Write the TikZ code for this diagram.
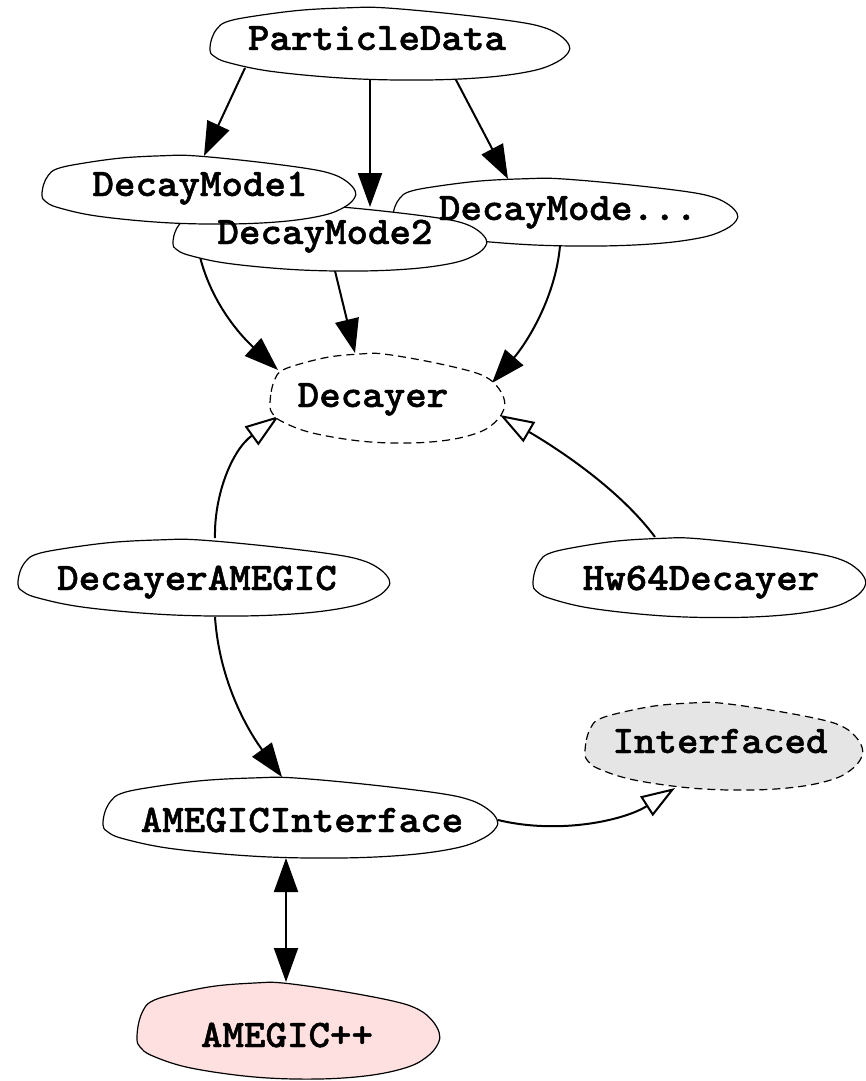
\documentclass[tikz,border=0pt]{standalone}
\usepackage{fontspec}
\newfontfamily\labelfont{Latin Modern Mono Light}[BoldFeatures={FakeBold=1.2}]
\usetikzlibrary{arrows.meta,calc}
\pgfdeclarelayer{edgelayer}
\pgfdeclarelayer{shapelayer}
\pgfsetlayers{edgelayer,shapelayer,main}
\definecolor{ifgray}{RGB}{229,229,229}
\definecolor{amgpink}{RGB}{255,224,224}
\newcommand\drawblob[5]{%
  \begin{pgfonlayer}{shapelayer}
  \path[#5, shift={(#1,#2)}, xscale=#3, yscale=#4]
    plot[smooth cycle, tension=0.6] coordinates {
      (-1.0,0.18) (-0.99,-0.14) (-0.96,-0.41) (-0.91,-0.59) (-0.78,-0.73)
      (-0.5,-0.91) (-0.22,-0.98) (-0.04,-0.98) (0.33,-0.82) (0.70,-0.60)
      (0.86,-0.43) (0.95,-0.2) (0.995,0.05) (0.99,0.25) (0.93,0.5)
      (0.80,0.74) (0.55,0.92) (0.2,1.0) (-0.22,0.96) (-0.65,0.77) (-0.9,0.52) (-0.98,0.34)};
  \end{pgfonlayer}}
\tikzset{
  lbl/.style={font=\labelfont\bfseries\fontsize{39}{40}\selectfont, anchor=base, inner sep=0pt, xscale=1.05},
  solidblob/.style={draw=black, line width=1.2pt, fill=white},
  dashblob/.style={draw=black, line width=1.2pt, dash pattern=on 8pt off 5pt},
  edge/.style={line width=2pt, -{Triangle[length=34pt,width=24pt]}},
  inh/.style={line width=2pt, -{Triangle[open,fill=white,length=34pt,width=23pt]}},
  both/.style={line width=2pt, {Triangle[length=34pt,width=24pt]}-{Triangle[length=34pt,width=24pt]}},
}
\begin{document}
\begin{tikzpicture}[x=1pt,y=-1pt]
\useasboundingbox (0,0) rectangle (866,1081);
\begin{pgfonlayer}{edgelayer}
\fill[white] (0,0) rectangle (866,1081);
\end{pgfonlayer}
% labels
\node[lbl] (pd)  at (377,50)   {ParticleData};
\node[lbl] (dm1) at (200,196)  {DecayMode1};
\node[lbl] (dmx) at (568,220)  {DecayMode...};
\node[lbl] (dm2) at (325,244)  {DecayMode2};
\node[lbl] (dec) at (373,407)  {Decayer};
\node[lbl] (da)  at (197,590)  {DecayerAMEGIC};
\node[lbl] (hw)  at (701,590)  {Hw64Decayer};
\node[lbl] (ifc) at (720,753)  {Interfaced};
\node[lbl] (ai)  at (302,832)  {AMEGICInterface};
\node[lbl] (amg) at (287,1047) {AMEGIC++};
% shapes
\drawblob{390}{43.5}{180}{36.5}{solidblob}
\drawblob{565.5}{212}{172.5}{34}{solidblob}
\drawblob{330}{238}{157}{33}{solidblob}
\drawblob{199}{189.5}{157}{34.5}{solidblob}
\drawblob{387.5}{398}{117.5}{45}{dashblob, fill=white}
\drawblob{204}{577.5}{186}{38.5}{solidblob}
\drawblob{699.5}{577.5}{166.5}{40}{solidblob}
\drawblob{724}{746}{139}{44}{dashblob, fill=ifgray}
\drawblob{300.5}{817.5}{197.5}{40.5}{solidblob}
\drawblob{288.5}{1030.5}{151.5}{48.5}{solidblob, fill=amgpink}
% connectors
\begin{pgfonlayer}{edgelayer}
\draw[edge] ($(pd.base)+(-132,18)$) -- ($(dm1.base)+(4,-40)$);
\draw[edge] ($(pd.base)+(-7,30)$) -- ($(dm2.base)+(45,-37)$);
\draw[edge] ($(pd.base)+(78,28)$) -- ($(dmx.base)+(-60,-41)$);
\draw[edge] ($(dm1.base)+(-5,27)$) .. controls ($(dm1.base)+(-2,94)$) and ($(dec.base)+(-133,-72)$) .. ($(dec.base)+(-95,-37)$);
\draw[edge] ($(dm2.base)+(10,27)$) -- ($(dec.base)+(-18,-54)$);
\draw[edge] ($(dmx.base)+(-8,26)$) .. controls ($(dmx.base)+(-13,80)$) and ($(dec.base)+(152,-62)$) .. ($(dec.base)+(119,-24)$);
\draw[inh] ($(da.base)+(18,-52)$) .. controls ($(da.base)+(17,-95)$) and ($(dec.base)+(-141,43)$) .. ($(dec.base)+(-94,9)$);
\draw[inh] ($(hw.base)+(-46,-53)$) .. controls ($(hw.base)+(-81,-100)$) and ($(dec.base)+(187,43)$) .. ($(dec.base)+(127,8)$);
\draw[edge] ($(da.base)+(18,27)$) .. controls ($(da.base)+(23,100)$) and ($(ai.base)+(-47,-92)$) .. ($(ai.base)+(-20,-55)$);
\draw[inh] ($(ai.base)+(196,-12)$) .. controls ($(ai.base)+(258,3)$) and ($(ifc.base)+(-95,67)$) .. ($(ifc.base)+(-45,35)$);
\draw[both] ($(ai.base)+(-16,26)$) -- ($(amg.base)+(-1,-65)$);
\end{pgfonlayer}
\end{tikzpicture}
\end{document}
